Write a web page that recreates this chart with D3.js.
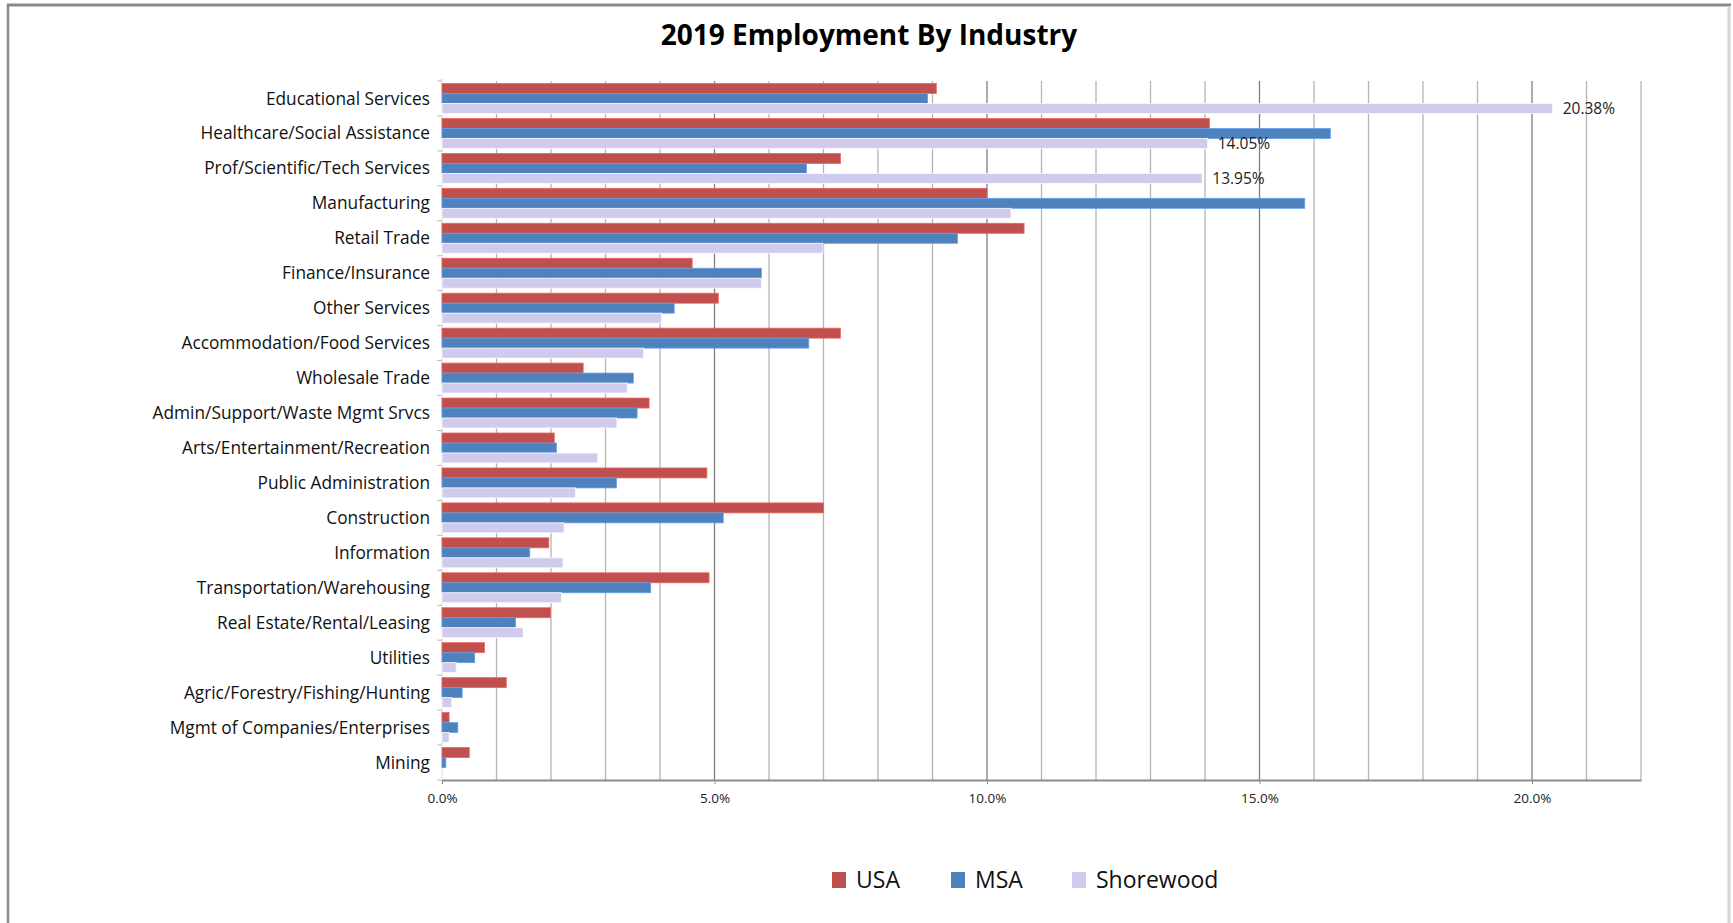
<!DOCTYPE html>
<html>
<head>
<meta charset="utf-8">
<script src="https://cdn.jsdelivr.net/npm/d3@7"></script>
<style>
  html, body { margin: 0; padding: 0; background: #fff; }
  svg { display: block; }
</style>
</head>
<body>
<svg id="chart" width="1733" height="923"></svg>
<script>
// Industries, top to bottom
const categories = [
  "Educational Services",
  "Healthcare/Social Assistance",
  "Prof/Scientific/Tech Services",
  "Manufacturing",
  "Retail Trade",
  "Finance/Insurance",
  "Other Services",
  "Accommodation/Food Services",
  "Wholesale Trade",
  "Admin/Support/Waste Mgmt Srvcs",
  "Arts/Entertainment/Recreation",
  "Public Administration",
  "Construction",
  "Information",
  "Transportation/Warehousing",
  "Real Estate/Rental/Leasing",
  "Utilities",
  "Agric/Forestry/Fishing/Hunting",
  "Mgmt of Companies/Enterprises",
  "Mining"
];

// Share of employment (%) by series
const usa       = [9.07, 14.08, 7.31, 10.00, 10.68, 4.59, 5.07, 7.31, 2.59, 3.80, 2.06, 4.86, 7.00, 1.96, 4.90, 1.99, 0.78, 1.18, 0.13, 0.50];
const msa       = [8.91, 16.30, 6.69, 15.83, 9.46, 5.86, 4.26, 6.73, 3.51, 3.58, 2.10, 3.20, 5.16, 1.61, 3.83, 1.35, 0.60, 0.37, 0.29, 0.07];
const shorewood = [20.38, 14.05, 13.95, 10.44, 6.99, 5.86, 4.03, 3.70, 3.40, 3.21, 2.86, 2.45, 2.24, 2.22, 2.19, 1.49, 0.26, 0.18, 0.13, 0.00];

const seriesNames  = ["USA", "MSA", "Shorewood"];
const seriesColors = ["#C0504D", "#4F81BD", "#D0CBEC"];
const xTicks = [0, 5, 10, 15, 20];
const labeledCategories = ["Educational Services", "Healthcare/Social Assistance", "Prof/Scientific/Tech Services"];

const seriesValues = [usa, msa, shorewood];
const rows = categories.map((c, i) => ({
  category: c,
  values: seriesNames.map((s, k) => ({ series: s, value: seriesValues[k][i] }))
}));

const svg = d3.select("#chart");

// Outer frame
svg.append("line").attr("x1", 7).attr("x2", 1731).attr("y1", 5).attr("y2", 5)
  .attr("stroke", "#8a8a8a").attr("stroke-width", 3);
svg.append("line").attr("x1", 8).attr("x2", 8).attr("y1", 4).attr("y2", 923)
  .attr("stroke", "#8a8a8a").attr("stroke-width", 2.5);
svg.append("line").attr("x1", 1729).attr("x2", 1729).attr("y1", 6).attr("y2", 923)
  .attr("stroke", "#d4d4d4").attr("stroke-width", 3);

// Title
svg.append("text")
  .attr("x", 869).attr("y", 45)
  .attr("text-anchor", "middle")
  .attr("font-family", "'Open Sans', sans-serif")
  .attr("font-weight", "bold")
  .attr("font-size", 28)
  .attr("fill", "#000")
  .text("2019 Employment By Industry");

const plot = { left: 442, right: 1641, top: 81, bottom: 780 };

const x = d3.scaleLinear().domain([0, 22]).range([plot.left, plot.right]);
const y = d3.scaleBand().domain(categories).range([plot.top, plot.bottom])
  .paddingInner(0.143).paddingOuter(0.0715);
const ySub = d3.scaleBand().domain(seriesNames).range([0, y.bandwidth()]).padding(0);
const color = d3.scaleOrdinal().domain(seriesNames).range(seriesColors);

// Vertical gridlines every 1%, darker at each 5%
const grid = svg.append("g");
grid.selectAll("line")
  .data(d3.range(1, 23))
  .join("line")
  .attr("x1", d => x(d)).attr("x2", d => x(d))
  .attr("y1", plot.top).attr("y2", plot.bottom)
  .attr("stroke", d => d % 5 === 0 ? "#7f7f7f" : "#b4b4b4")
  .attr("stroke-width", 1.3);

// Category axis: light dashed line with small ticks between groups
const yAxisG = svg.append("g");
yAxisG.append("line")
  .attr("x1", plot.left).attr("x2", plot.left)
  .attr("y1", plot.top - 2).attr("y2", plot.bottom + 4)
  .attr("stroke", "#b8b8b8").attr("stroke-dasharray", "1,1");
yAxisG.selectAll("line.tk")
  .data(d3.range(categories.length + 1))
  .join("line").attr("class", "tk")
  .attr("x1", plot.left - 5).attr("x2", plot.left)
  .attr("y1", i => plot.top + i * y.step()).attr("y2", i => plot.top + i * y.step())
  .attr("stroke", "#bdbdbd");

// Category labels
svg.append("g").selectAll("text")
  .data(categories)
  .join("text")
  .attr("x", 430)
  .attr("y", d => y(d) + y.bandwidth() / 2)
  .attr("dy", "0.35em")
  .attr("text-anchor", "end")
  .attr("font-family", "'Open Sans', sans-serif")
  .attr("font-size", 17.3)
  .attr("fill", "#111")
  .text(d => d);

// Bars
const groups = svg.append("g").selectAll("g")
  .data(rows)
  .join("g")
  .attr("transform", d => `translate(0,${y(d.category)})`);

groups.selectAll("rect")
  .data(d => d.values)
  .join("rect")
  .attr("x", x(0))
  .attr("y", d => ySub(d.series))
  .attr("width", d => x(d.value) - x(0))
  .attr("height", ySub.bandwidth())
  .attr("fill", d => color(d.series))
  .attr("stroke", d => d3.color(color(d.series)).brighter(0.6))
  .attr("stroke-width", 0.8);

// Value labels on the leading Shorewood bars
const fmtVal = v => d3.format(".2f")(v) + "%";
groups.filter(d => labeledCategories.includes(d.category))
  .append("text")
  .attr("x", d => x(d.values[2].value) + 10)
  .attr("y", ySub("Shorewood") + ySub.bandwidth() / 2)
  .attr("dy", "0.38em")
  .attr("font-family", "'Open Sans', sans-serif")
  .attr("font-size", 15.5)
  .attr("fill", "#222")
  .text(d => fmtVal(d.values[2].value));

// Bottom value axis
const xAxis = d3.axisBottom(x)
  .tickValues(xTicks)
  .tickFormat(d => d3.format(".1f")(d) + "%")
  .tickSize(4)
  .tickSizeOuter(0);
const xAxisG = svg.append("g")
  .attr("transform", `translate(0,${plot.bottom})`)
  .call(xAxis);
xAxisG.select(".domain").attr("stroke", "#8c8c8c").attr("stroke-width", 2);
xAxisG.selectAll(".tick line").attr("stroke", "#8c8c8c");
xAxisG.selectAll(".tick text")
  .attr("y", 13)
  .attr("font-family", "'Open Sans', sans-serif")
  .attr("font-size", 13.5)
  .attr("fill", "#222");

// Legend
const legend = svg.append("g").attr("transform", "translate(832,880)");
const legendX = [0, 119, 240];
const items = legend.selectAll("g")
  .data(seriesNames)
  .join("g")
  .attr("transform", (d, i) => `translate(${legendX[i]},0)`);
items.append("rect")
  .attr("x", 0).attr("y", -8)
  .attr("width", 14).attr("height", 16)
  .attr("fill", d => color(d));
items.append("text")
  .attr("x", 24).attr("y", 0)
  .attr("dy", "0.36em")
  .attr("font-family", "'Open Sans', sans-serif")
  .attr("font-size", 23)
  .attr("fill", "#111")
  .text(d => d);
</script>
</body>
</html>
